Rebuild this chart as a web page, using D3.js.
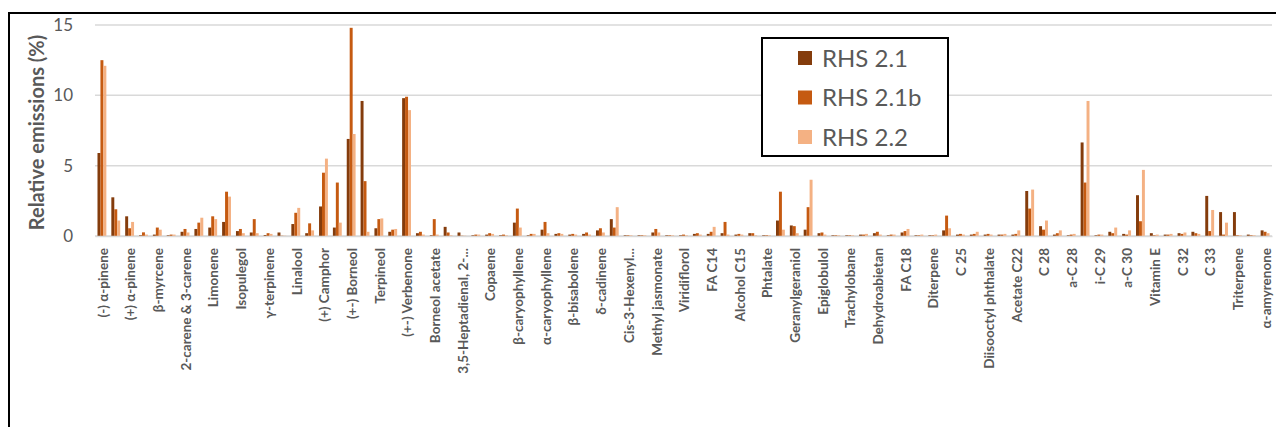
<!DOCTYPE html>
<html>
<head>
<meta charset="utf-8">
<script src="https://cdn.jsdelivr.net/npm/d3@7"></script>
<style>
  html, body { margin: 0; padding: 0; background: #fff; }
  svg { display: block; }
</style>
</head>
<body>
<svg id="chart" width="1276" height="427"></svg>
<script>
// Category labels: the chart shows every other label (hidden ones left blank)
const categories = [
  "(-) α-pinene", "", "(+) α-pinene", "", "β-myrcene", "", "2-carene & 3-carene", "",
  "Limonene", "", "Isopulegol", "", "γ-terpinene", "", "Linalool", "",
  "(+) Camphor", "", "(+-) Borneol", "", "Terpineol", "", "(+-) Verbenone", "",
  "Borneol acetate", "", "3,5-Heptadienal, 2-...", "", "Copaene", "", "β-caryophyllene", "",
  "α-caryophyllene", "", "β-bisabolene", "", "δ-cadinene", "", "Cis-3-Hexenyl...", "",
  "Methyl jasmonate", "", "Viridiflorol", "", "FA C14", "", "Alcohol C15", "",
  "Phtalate", "", "Geranylgeraniol", "", "Epiglobulol", "", "Trachylobane", "",
  "Dehydroabietan", "", "FA C18", "", "Diterpene", "", "C 25", "",
  "Diisooctyl phthalate", "", "Acetate C22", "", "C 28", "", "a-C 28", "",
  "i-C 29", "", "a-C 30", "", "Vitamin E", "", "C 32", "", "C 33", "",
  "Triterpene", "", "α-amyrenone"
];

const seriesNames = ["RHS 2.1", "RHS 2.1b", "RHS 2.2"];

const rhs21 = [
  5.9, 2.75, 1.4, 0.05, 0.1, 0.05, 0.3, 0.5, 0.6, 1.0,
  0.35, 0.25, 0.07, 0.25, 0.85, 0.2, 2.1, 0.6, 6.9, 9.6,
  0.55, 0.3, 9.8, 0.2, 0.05, 0.65, 0.25, 0.05, 0.1, 0.05,
  0.95, 0.05, 0.45, 0.15, 0.1, 0.15, 0.4, 1.2, 0.05, 0.05,
  0.25, 0.05, 0.05, 0.15, 0.15, 0.2, 0.1, 0.2, 0.05, 1.1,
  0.75, 0.45, 0.2, 0.05, 0.05, 0.1, 0.2, 0.05, 0.25, 0.05,
  0.05, 0.4, 0.1, 0.1, 0.1, 0.1, 0.1, 3.2, 0.7, 0.1,
  0.05, 6.65, 0.05, 0.3, 0.15, 2.9, 0.2, 0.1, 0.2, 0.3,
  2.85, 1.7, 1.7, 0.1, 0.4
];

const rhs21b = [
  12.5, 1.9, 0.55, 0.26, 0.6, 0.1, 0.5, 0.95, 1.4, 3.15,
  0.5, 1.2, 0.2, 0.02, 1.65, 0.9, 4.5, 3.8, 14.8, 3.9,
  1.2, 0.45, 9.9, 0.3, 1.2, 0.25, 0.02, 0.1, 0.2, 0.1,
  1.95, 0.15, 1.0, 0.2, 0.15, 0.25, 0.55, 0.6, 0.05, 0.05,
  0.5, 0.05, 0.1, 0.2, 0.3, 1.0, 0.15, 0.2, 0.05, 3.15,
  0.7, 2.05, 0.25, 0.05, 0.05, 0.1, 0.3, 0.1, 0.35, 0.05,
  0.05, 1.45, 0.15, 0.15, 0.15, 0.1, 0.15, 1.95, 0.45, 0.2,
  0.1, 3.8, 0.1, 0.2, 0.1, 1.05, 0.05, 0.1, 0.15, 0.2,
  0.35, 0.1, 0.05, 0.05, 0.3
];

const rhs22 = [
  12.1, 1.1, 1.0, 0.1, 0.45, 0.1, 0.25, 1.3, 1.2, 2.8,
  0.2, 0.2, 0.15, 0.02, 2.0, 0.4, 5.5, 0.95, 7.25, 0.3,
  1.25, 0.5, 8.95, 0.1, 0.1, 0.05, 0.02, 0.1, 0.15, 0.05,
  0.6, 0.15, 0.2, 0.15, 0.1, 0.1, 0.25, 2.05, 0.05, 0.05,
  0.25, 0.05, 0.05, 0.1, 0.65, 0.1, 0.1, 0.05, 0.05, 0.45,
  0.2, 4.0, 0.1, 0.05, 0.05, 0.15, 0.1, 0.1, 0.5, 0.1,
  0.1, 0.55, 0.1, 0.3, 0.1, 0.15, 0.4, 3.3, 1.1, 0.4,
  0.15, 9.6, 0.1, 0.6, 0.4, 4.7, 0.1, 0.15, 0.25, 0.15,
  1.85, 0.95, 0.05, 0.05, 0.2
];

const yTicks = [0, 5, 10, 15];
const colors = ["#843c0c", "#c55a11", "#f4b183"];

const series = [rhs21, rhs21b, rhs22];
const svg = d3.select("#chart");
const W = 1276, H = 427;
const m = { left: 95, right: 4, top: 25, bottom: 191 };
const x0 = m.left, x1 = W - m.right, yTop = m.top, yBot = H - m.bottom;
const FONT = "Lato, 'Open Sans', sans-serif";

// outer frame
svg.append("rect")
  .attr("x", 9).attr("y", 13).attr("width", 1400).attr("height", 600)
  .attr("fill", "none").attr("stroke", "#000").attr("stroke-width", 2);

const idx = d3.range(categories.length);
const x = d3.scaleBand().domain(idx).range([x0, x1]).paddingInner(0.36).paddingOuter(0.18);
const xs = d3.scaleBand().domain([0, 1, 2]).range([0, x.bandwidth()]);
const y = d3.scaleLinear().domain([0, 15]).range([yBot, yTop]);

// gridlines
svg.append("g").selectAll("line").data(yTicks).join("line")
  .attr("x1", x0).attr("x2", x1)
  .attr("y1", d => y(d)).attr("y2", d => y(d))
  .attr("stroke", "#d9d9d9").attr("stroke-width", 1.5);

// y axis labels
const yAxis = d3.axisLeft(y).tickValues(yTicks).tickSize(0).tickPadding(0);
const gy = svg.append("g").attr("transform", `translate(${x0 - 22},0)`).call(yAxis);
gy.select(".domain").remove();
gy.selectAll("text")
  .attr("font-family", FONT)
  .attr("font-size", 17).attr("fill", "#595959");

// y title
svg.append("text")
  .attr("transform", `translate(44,${(yTop + yBot) / 2 + 2}) rotate(-90)`)
  .attr("text-anchor", "middle")
  .attr("font-family", FONT)
  .attr("font-weight", "bold").attr("font-size", 20).attr("fill", "#595959")
  .text("Relative emissions (%)");

// bars
const groups = svg.append("g").selectAll("g").data(idx).join("g")
  .attr("transform", i => `translate(${x(i)},0)`);
groups.selectAll("rect")
  .data(i => series.map((s, k) => ({ k, v: s[i] })))
  .join("rect")
  .attr("x", d => xs(d.k))
  .attr("width", xs.bandwidth())
  .attr("y", d => y(d.v))
  .attr("height", d => y(0) - y(d.v))
  .attr("fill", d => colors[d.k]);

// x axis
const xAxis = d3.axisBottom(x)
  .tickValues(idx.filter(i => categories[i] !== ""))
  .tickFormat(i => categories[i]).tickSize(0).tickPadding(0);
const gx = svg.append("g").attr("transform", `translate(0,${yBot})`).call(xAxis);
gx.select(".domain").attr("stroke", "#d9d9d9").attr("stroke-width", 1.5);
gx.selectAll("text")
  .attr("transform", "rotate(-90)")
  .attr("text-anchor", "end")
  .attr("x", -12).attr("y", 1).attr("dy", "0.35em")
  .attr("font-family", FONT)
  .attr("font-weight", "bold").attr("font-size", 13.5).attr("fill", "#595959");

// legend
const lg = svg.append("g").attr("transform", "translate(762,38)");
lg.append("rect").attr("width", 186).attr("height", 118)
  .attr("fill", "#fff").attr("stroke", "#000").attr("stroke-width", 2);
const items = lg.selectAll("g.item").data(seriesNames).join("g")
  .attr("class", "item")
  .attr("transform", (d, i) => `translate(36,${13 + i * 39.5})`);
items.append("rect").attr("width", 14).attr("height", 14)
  .attr("fill", (d, i) => colors[i]);
items.append("text").attr("x", 24).attr("y", 7).attr("dy", "0.36em")
  .attr("font-family", FONT)
  .attr("font-size", 24).attr("fill", "#595959")
  .text(d => d);
</script>
</body>
</html>
